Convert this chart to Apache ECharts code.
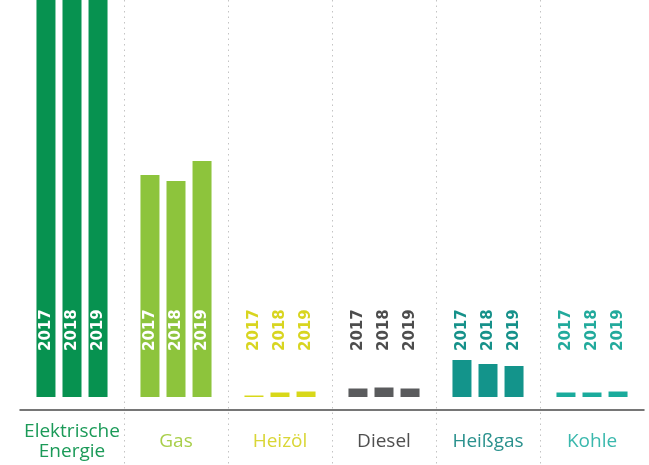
<!DOCTYPE html>
<html>
<head>
<meta charset="utf-8">
<script src="https://cdn.jsdelivr.net/npm/echarts@6/dist/echarts.min.js"></script>
<style>
  html, body { margin: 0; padding: 0; background: #fff; }
  #main { width: 649px; height: 465px; }
</style>
</head>
<body>
<div id="main"></div>
<script>
// Kategorien und Jahre
var categories = ['Elektrische\nEnergie', 'Gas', 'Heizöl', 'Diesel', 'Heißgas', 'Kohle'];
var years = ['2017', '2018', '2019'];

// Werte je Jahr (aus dem Bild geschätzt, Elektrische Energie ragt oben heraus)
var values2017 = [560, 222, 1.5, 8.5, 37, 4.5];
var values2018 = [555, 216, 4.5, 9.5, 33, 4.5];
var values2019 = [575, 236, 5.5, 8.5, 31, 5.5];

var barColors = ['#079250', '#8dc43c', '#d8d81a', '#5a5b5d', '#13948b', '#1aab9c'];
var textColors = ['#1b9a58', '#a9cf4a', '#d9d637', '#4f4f4f', '#2a918d', '#3ab8ad'];
var yearLabelColors = ['#ffffff', '#ffffff', '#d8d520', '#4d4d4d', '#16918a', '#22aa9c'];

var seriesValues = [values2017, values2018, values2019];

var myChart = echarts.init(document.getElementById('main'));

var series = years.map(function (year, s) {
    return {
        name: year,
        type: 'bar',
        barWidth: 19,
        barGap: '37%',
        clip: true,
        data: seriesValues[s].map(function (v, i) {
            return {
                value: v,
                itemStyle: { color: barColors[i] },
                label: { color: yearLabelColors[i] }
            };
        }),
        label: {
            show: true,
            position: 'insideBottom',
            distance: 46,
            rotate: 90,
            align: 'left',
            verticalAlign: 'middle',
            formatter: function (p) { return p.seriesName; },
            fontFamily: 'DejaVu Sans',
            fontWeight: 'bold',
            fontSize: 15
        }
    };
});

myChart.setOption({
    animation: false,
    grid: { left: 20, right: 5, top: 0, bottom: 0 },
    xAxis: {
        type: 'category',
        data: categories,
        offset: -55,
        axisLine: { onZero: false, lineStyle: { color: '#4a4a4a', width: 1.5 } },
        axisTick: { show: false },
        axisLabel: {
            interval: 0,
            margin: 32,
            verticalAlign: 'middle',
            fontFamily: 'Open Sans',
            fontSize: 19,
            lineHeight: 20,
            color: function (value, index) { return textColors[index]; }
        },
        splitLine: {
            show: true,
            interval: 0,
            showMinLine: false,
            showMaxLine: false,
            lineStyle: { color: '#c4c4c4', width: 1, type: [1.5, 4] }
        }
    },
    yAxis: {
        type: 'value',
        min: -68,
        max: 397,
        show: false
    },
    series: series
});
</script>
</body>
</html>
